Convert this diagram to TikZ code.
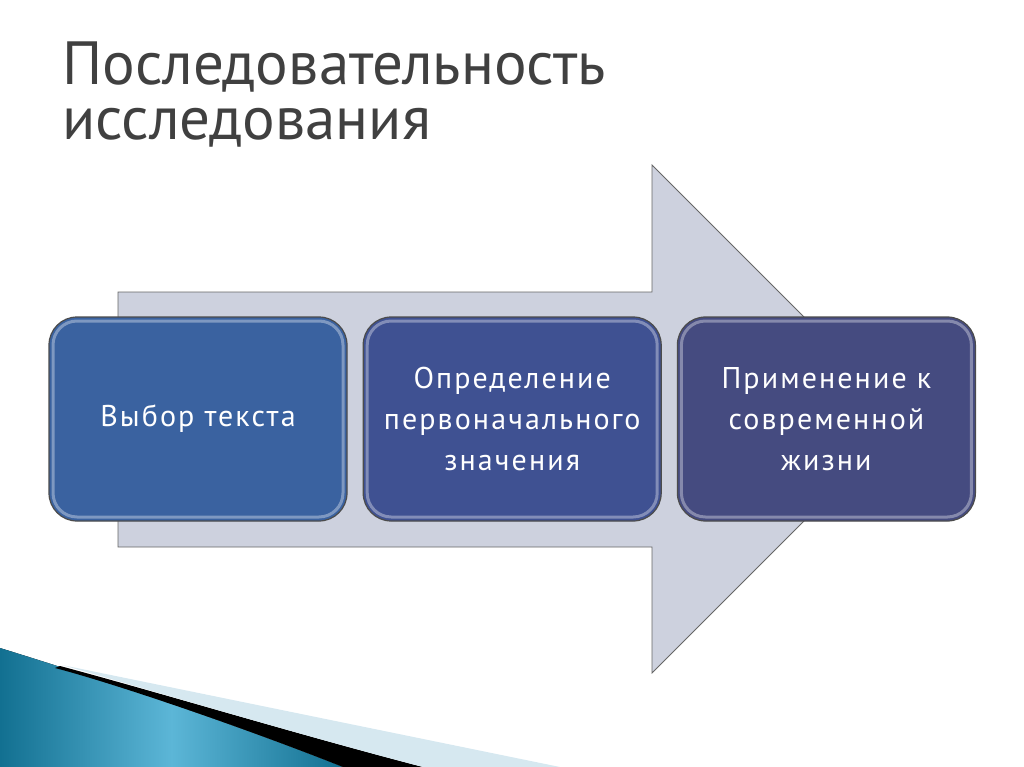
\documentclass[tikz,border=0pt]{standalone}
\usepackage{fontspec}
\setmainfont{PT Sans}
\usetikzlibrary{positioning}

\definecolor{arrowfill}{RGB}{205,209,222}
\definecolor{boxa}{RGB}{58,98,160}
\definecolor{boxb}{RGB}{63,81,146}
\definecolor{boxc}{RGB}{69,75,128}
\definecolor{titlegray}{RGB}{64,64,64}
\definecolor{tealdark}{RGB}{18,112,145}
\definecolor{teallight}{RGB}{92,182,215}
\definecolor{stripe}{RGB}{214,232,240}

\tikzset{
  stepbox/.style={shape=rectangle, rounded corners=28pt, minimum width=298pt,
    minimum height=204pt, fill=#1, draw=black!70, line width=1.2pt,
    text=white, align=center,
    font=\fontsize{30}{41}\selectfont\addfontfeature{LetterSpace=7},
    path picture={\draw[white, opacity=0.35, line width=3pt, rounded corners=24pt]
      ([shift={(4pt,-4pt)}]path picture bounding box.north west) rectangle
      ([shift={(-4pt,4pt)}]path picture bounding box.south east);}},
  titletext/.style={anchor=north west, inner sep=0pt, text=titlegray, align=left,
    font=\fontsize{61}{55}\selectfont}
}

\begin{document}
\begin{tikzpicture}[x=1pt,y=-1pt]
\useasboundingbox (0,0) rectangle (1024,767);

% title
\node[titletext] (title) at (62,42) {Последовательность\\исследования};

% big arrow behind the steps
\draw[fill=arrowfill, draw=black!60, line width=0.8pt]
  (118,292) -- (652,292) -- (652,165) -- (906,419) -- (652,673)
  -- (652,547) -- (118,547) -- cycle;

% steps
\node[stepbox=boxa] (vybor) at (198,419) {Выбор текста};
\node[stepbox=boxb, right=15pt of vybor] (opred) {Определение\\первоначального\\значения};
\node[stepbox=boxc, right=15pt of opred] (prim) {Применение к\\современной\\жизни};

% corner swoosh
\fill[left color=tealdark, right color=tealdark, middle color=teallight]
  (0,648) .. controls (120,685) and (250,730) .. (343,767) -- (0,767) -- cycle;
\fill[black] (60,666) .. controls (150,690) and (300,735) .. (423,767) -- (343,767)
  .. controls (250,730) and (120,685) .. (55,668) -- cycle;
\fill[stripe] (62,665) -- (560,767) -- (423,767)
  .. controls (300,735) and (150,690) .. (62,665) -- cycle;
\end{tikzpicture}
\end{document}
